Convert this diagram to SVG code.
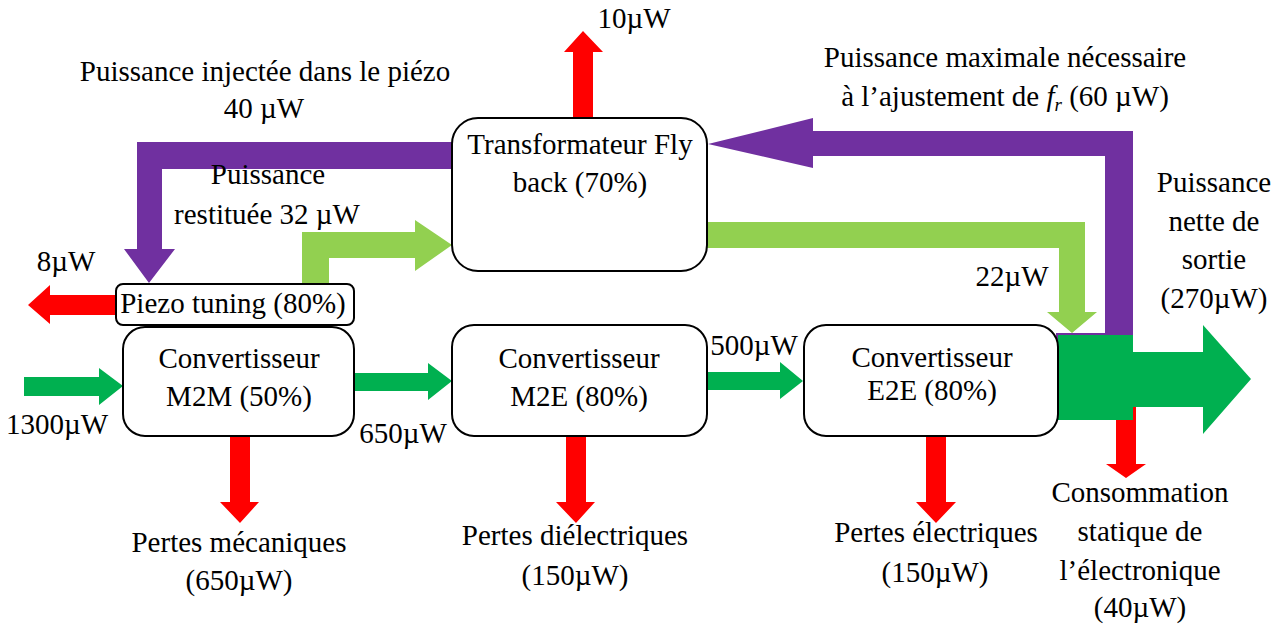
<svg xmlns="http://www.w3.org/2000/svg" width="1283" height="624" viewBox="0 0 1283 624">
<style>
text{font-family:'Liberation Serif',Tinos,'Times New Roman',Times,'DejaVu Serif',serif;font-size:29px;fill:#000;text-anchor:middle}
.box{fill:#fff;stroke:#000;stroke-width:2}
.red{fill:#FF0000}.grn{fill:#00B050}.lgr{fill:#92D050}.pur{fill:#7030A0}
</style>
<rect width="1283" height="624" fill="#fff"/>
<g id="connectors">
<path class="pur" d="M452,142 H137 V249 H124 L149,283 L175,249 H162 V169 H452 Z"/>
<path class="pur" d="M1133,131 V335 H1105 V156 H813 V168 L708,144 L813,118 V131 Z"/>
<rect class="pur" x="1056" y="333" width="50" height="3"/>
<rect class="pur" x="1056" y="333" width="3" height="22"/>
<path class="lgr" d="M302,284 V232 H415 V220 L452,245 L415,271 V258 H329 V284 Z"/>
<path class="lgr" d="M707,222 H1085 V312 H1097 L1072,333 L1047,312 H1059 V248 H707 Z"/>
<path class="red" d="M116,295 H50 V285 L28,305 L50,324 V315 H116 Z"/>
<path class="red" d="M573,118 V52 H564 L583,31 L603,52 H593 V118 Z"/>
<path class="red" d="M230,436 V502 H220 L240,523 L259,502 H250 V436 Z"/>
<path class="red" d="M566,436 V502 H556 L576,523 L595,502 H586 V436 Z"/>
<path class="red" d="M926,436 V502 H916 L936,523 L956,502 H946 V436 Z"/>
<path class="red" d="M1116,398 V464 H1106 L1126,478 L1146,464 H1136 V398 Z"/>
<path class="grn" d="M24,377 H99 V368 L123,386 L99,405 V396 H24 Z"/>
<path class="grn" d="M354,373 H428 V363 L452,381 L428,400 V391 H354 Z"/>
<path class="grn" d="M707,372 H780 V362 L803,381 L780,399 V390 H707 Z"/>
<rect class="grn" x="1058" y="335" width="75" height="85"/>
<path class="grn" d="M1132,352 H1203 V325 L1251,379 L1203,434 V407 H1132 Z"/>
</g>
<g id="flyback">
<rect class="box" x="452" y="118" width="255" height="153" rx="26"/>
<text x="580" y="154">Transformateur Fly</text>
<text x="580" y="192">back (70%)</text>
</g>
<g id="piezo">
<rect class="box" x="116" y="284" width="238" height="41" rx="7"/>
<text x="233" y="313">Piezo tuning (80%)</text>
</g>
<g id="m2m">
<rect class="box" x="123" y="327" width="231" height="109" rx="22"/>
<text x="239" y="368">Convertisseur</text>
<text x="239" y="406">M2M (50%)</text>
</g>
<g id="m2e">
<rect class="box" x="452" y="325" width="255" height="111" rx="22"/>
<text x="579" y="368">Convertisseur</text>
<text x="579" y="406">M2E (80%)</text>
</g>
<g id="e2e">
<rect class="box" x="804" y="325" width="254" height="111" rx="22"/>
<text x="932" y="367">Convertisseur</text>
<text x="932" y="400">E2E (80%)</text>
</g>
<g id="labels">
<text x="265" y="81">Puissance injectée dans le piézo</text>
<text x="264" y="118">40 µW</text>
<text x="268" y="184">Puissance</text>
<text x="267" y="224">restituée 32 µW</text>
<text x="66" y="271">8µW</text>
<text x="634" y="28">10µW</text>
<text x="1005" y="67">Puissance maximale nécessaire</text>
<text x="1005" y="106">à l’ajustement de <tspan font-style="italic">f</tspan><tspan font-style="italic" font-size="19" dy="5">r</tspan><tspan dy="-5"> (60 µW)</tspan></text>
<text x="1012" y="286">22µW</text>
<text x="1214" y="192">Puissance</text>
<text x="1214" y="231">nette de</text>
<text x="1214" y="269">sortie</text>
<text x="1214" y="308">(270µW)</text>
<text x="57" y="434">1300µW</text>
<text x="403" y="443">650µW</text>
<text x="754" y="355">500µW</text>
<text x="239" y="552">Pertes mécaniques</text>
<text x="239" y="590">(650µW)</text>
<text x="575" y="545">Pertes diélectriques</text>
<text x="575" y="585">(150µW)</text>
<text x="936" y="542">Pertes électriques</text>
<text x="935" y="582">(150µW)</text>
<text x="1140" y="502">Consommation</text>
<text x="1140" y="541">statique de</text>
<text x="1140" y="580">l’électronique</text>
<text x="1140" y="617">(40µW)</text>
</g>
</svg>
